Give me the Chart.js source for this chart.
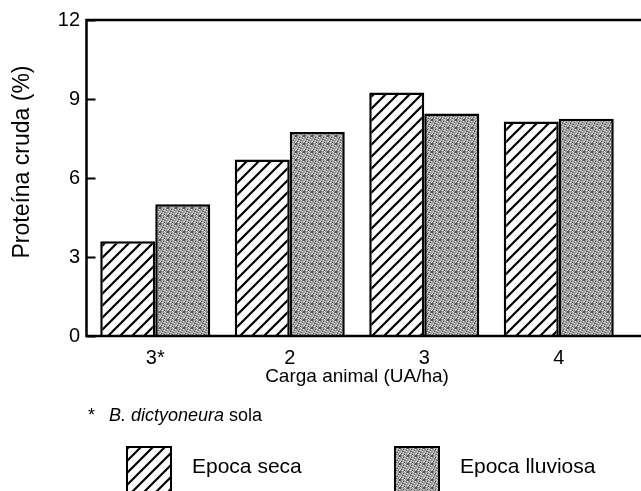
<!DOCTYPE html>
<html>
<head>
<meta charset="utf-8">
<script src="https://cdn.jsdelivr.net/npm/chart.js"></script>
<style>
  html, body { margin: 0; padding: 0; background: #fff; }
  #chart-container { width: 641px; height: 491px; }
</style>
</head>
<body>
<div id="chart-container"><canvas id="chart" width="641" height="491"></canvas></div>
<script>
// chart values
const categories = ['3*', '2', '3', '4'];
const drySeason = [3.6, 6.7, 9.25, 8.15];   // Epoca seca
const wetSeason = [5.0, 7.75, 8.45, 8.25];  // Epoca lluviosa
const yTicks = [0, 3, 6, 9, 12];
const seriesNames = ['Epoca seca', 'Epoca lluviosa'];

const FONT = "'Liberation Sans', Arial, Helvetica, sans-serif";

// hatch "/" pattern
function hatchPattern() {
  const c = document.createElement('canvas');
  c.width = 12; c.height = 12;
  const g = c.getContext('2d');
  g.fillStyle = '#fff';
  g.fillRect(0, 0, 12, 12);
  g.strokeStyle = '#000';
  g.lineWidth = 2.2;
  g.beginPath();
  g.moveTo(-6, 6); g.lineTo(6, -6);
  g.moveTo(0, 12); g.lineTo(12, 0);
  g.moveTo(6, 18); g.lineTo(18, 6);
  g.stroke();
  return g.createPattern(c, 'repeat');
}

// grey stipple pattern
function stipplePattern() {
  const c = document.createElement('canvas');
  c.width = 8; c.height = 8;
  const g = c.getContext('2d');
  g.fillStyle = '#a2a2a2';
  g.fillRect(0, 0, 8, 8);
  for (let i = 0; i < 8; i++) {
    for (let j = 0; j < 8; j++) {
      if ((i * 3 + j * 5) % 7 === 0) {
        g.fillStyle = '#4a4a4a';
        g.fillRect(i, j, 1, 1);
      } else if ((i + j * 3) % 5 === 0) {
        g.fillStyle = '#e0e0e0';
        g.fillRect(i, j, 1, 1);
      } else if ((i * 5 + j) % 6 === 0) {
        g.fillStyle = '#7a7a7a';
        g.fillRect(i, j, 1, 1);
      }
    }
  }
  return g.createPattern(c, 'repeat');
}

const fills = [hatchPattern(), stipplePattern()];

// frame, inward ticks, footnote and legend
const decorations = {
  id: 'decorations',
  afterDatasetsDraw(chart) {
    const ctx = chart.ctx;
    const area = chart.chartArea;
    const y = chart.scales.y;
    const axisX = area.left - 1.5;

    ctx.save();
    ctx.strokeStyle = '#000';
    ctx.lineWidth = 2.5;
    ctx.beginPath();
    ctx.moveTo(chart.width, area.top);
    ctx.lineTo(axisX, area.top);
    ctx.lineTo(axisX, area.bottom);
    ctx.lineTo(chart.width, area.bottom);
    ctx.stroke();

    // ticks pointing into the plot
    ctx.lineWidth = 2;
    ctx.beginPath();
    y.ticks.forEach(t => {
      const py = Math.round(y.getPixelForValue(t.value)) + 0.5;
      ctx.moveTo(axisX, py);
      ctx.lineTo(axisX + 9, py);
    });
    ctx.stroke();
    ctx.restore();
  },
  afterDraw(chart) {
    const ctx = chart.ctx;
    ctx.save();
    ctx.fillStyle = '#000';
    ctx.textBaseline = 'alphabetic';

    // footnote
    ctx.font = '18px ' + FONT;
    ctx.fillText('*', 88, 421);
    ctx.font = 'italic 18px ' + FONT;
    ctx.fillText('B. dictyoneura', 109, 421);
    const w = ctx.measureText('B. dictyoneura').width;
    ctx.font = '18px ' + FONT;
    ctx.fillText(' sola', 109 + w, 421);

    // legend
    const boxX = [126, 394];
    const boxY = 446, boxW = 46, boxH = 46;
    ctx.font = '21px ' + FONT;
    ctx.textBaseline = 'middle';
    seriesNames.forEach((name, i) => {
      ctx.fillStyle = fills[i];
      ctx.fillRect(boxX[i], boxY, boxW, boxH);
      ctx.strokeStyle = '#000';
      ctx.lineWidth = 2;
      ctx.strokeRect(boxX[i] + 1, boxY + 1, boxW - 2, boxH);
      ctx.fillStyle = '#000';
      ctx.fillText(name, boxX[i] + boxW + 20, 467);
    });
    ctx.restore();
  }
};

new Chart(document.getElementById('chart'), {
  type: 'bar',
  data: {
    labels: categories,
    datasets: [{
      label: seriesNames[0],
      data: drySeason,
      backgroundColor: fills[0],
      borderColor: '#000',
      borderWidth: 2.5,
      borderSkipped: 'bottom'
    }, {
      label: seriesNames[1],
      data: wetSeason,
      backgroundColor: fills[1],
      borderColor: '#000',
      borderWidth: 2.5,
      borderSkipped: 'bottom'
    }]
  },
  options: {
    responsive: false,
    animation: false,
    devicePixelRatio: 1,
    layout: { padding: { top: 14, right: 15, bottom: 103, left: 0 } },
    datasets: { bar: { barPercentage: 1, categoryPercentage: 0.818 } },
    plugins: {
      legend: { display: false },
      tooltip: { enabled: false }
    },
    scales: {
      x: {
        grid: { display: false, drawTicks: false },
        border: { display: false },
        ticks: { color: '#000', font: { family: FONT, size: 20 }, padding: 10 },
        title: {
          display: true,
          text: 'Carga animal (UA/ha)',
          color: '#000',
          font: { family: FONT, size: 19 },
          padding: { top: 0, bottom: 0 }
        },
        afterFit(scale) { scale.height = 52; }
      },
      y: {
        min: 0,
        max: 12,
        afterBuildTicks(scale) { scale.ticks = yTicks.map(v => ({ value: v })); },
        grid: { display: false, drawTicks: false },
        border: { display: false },
        ticks: { color: '#000', font: { family: FONT, size: 20 }, padding: 8 },
        title: {
          display: true,
          text: '     Proteína cruda (%)',
          color: '#000',
          font: { family: FONT, size: 23 },
          padding: { top: 9, bottom: 0 }
        },
        afterFit(scale) { scale.width = 88; }
      }
    }
  },
  plugins: [decorations]
});
</script>
</body>
</html>
